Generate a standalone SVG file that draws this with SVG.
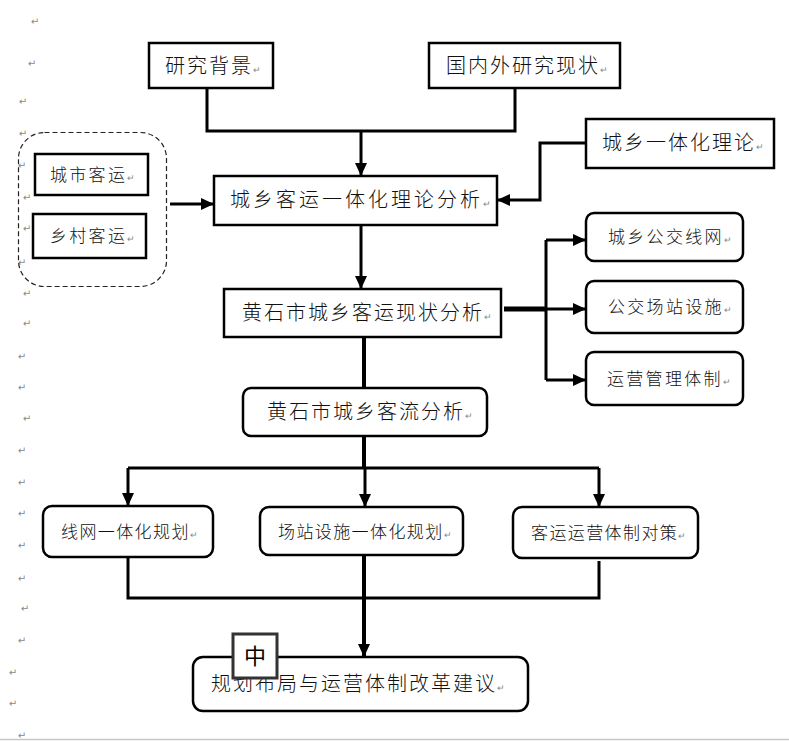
<svg xmlns="http://www.w3.org/2000/svg" width="789" height="741" viewBox="0 0 789 741">
<defs>
<style>
.box{fill:#fff;stroke:#000;stroke-width:2.5}
.t{font-family:"Noto Sans CJK SC","Noto Sans",sans-serif;font-weight:300;fill:#111}
.L{font-size:20px;letter-spacing:2px}
.M{font-size:17px;letter-spacing:2.3px}
.S{font-size:17px;letter-spacing:1.4px}
.pm{font-family:"DejaVu Sans",sans-serif;font-size:9px;fill:#888;letter-spacing:0}
.c{fill:none;stroke:#000;stroke-width:3}
.c4{fill:none;stroke:#000;stroke-width:4}
.m{fill:#888;font-family:"DejaVu Sans",sans-serif;font-size:10px;text-anchor:middle}
</style>
<marker id="ah" markerUnits="userSpaceOnUse" markerWidth="13" markerHeight="12" refX="13" refY="6" orient="auto">
<path d="M0,0 L13,6 L0,12 z" fill="#000"/>
</marker>
</defs>
<rect width="789" height="741" fill="#fff"/>
<line x1="0" y1="739.5" x2="789" y2="739.5" stroke="#c8c8c8" stroke-width="1.5"/>
<g id="margin-marks">
<text class="m" x="35" y="25">↵</text>
<text class="m" x="32" y="67">↵</text>
<text class="m" x="23" y="105">↵</text>
<text class="m" x="23" y="137">↵</text>
<text class="m" x="22" y="169">↵</text>
<text class="m" x="27" y="201">↵</text>
<text class="m" x="27" y="232">↵</text>
<text class="m" x="22" y="266">↵</text>
<text class="m" x="27" y="297">↵</text>
<text class="m" x="27" y="327">↵</text>
<text class="m" x="22" y="360">↵</text>
<text class="m" x="22" y="391">↵</text>
<text class="m" x="27" y="422">↵</text>
<text class="m" x="22" y="454">↵</text>
<text class="m" x="22" y="486">↵</text>
<text class="m" x="22" y="517">↵</text>
<text class="m" x="22" y="549">↵</text>
<text class="m" x="22" y="582">↵</text>
<text class="m" x="25" y="612">↵</text>
<text class="m" x="22" y="644">↵</text>
<text class="m" x="13" y="676">↵</text>
<text class="m" x="13" y="707">↵</text>
<text class="m" x="22" y="739">↵</text>
</g>
<g id="connectors">
<path class="c" d="M207,88 V131 H515 V88"/>
<path class="c" d="M361,131 V176" marker-end="url(#ah)"/>
<path class="c" d="M170,204 H214" marker-end="url(#ah)"/>
<path class="c" d="M586,143 H540 V200 H497" marker-end="url(#ah)"/>
<path class="c" d="M361,225 V289" marker-end="url(#ah)"/>
<path fill="none" stroke="#000" stroke-width="5" d="M504,309 H546"/>
<path class="c" d="M546,240 V380"/>
<path class="c" d="M546,240 H586" marker-end="url(#ah)"/>
<path class="c" d="M546,309 H586" marker-end="url(#ah)"/>
<path class="c" d="M546,380 H586" marker-end="url(#ah)"/>
<path class="c4" d="M364,337 V388"/>
<path class="c4" d="M364,436 V468"/>
<path class="c" d="M128,468 H599"/>
<path class="c" d="M128,468 V506" marker-end="url(#ah)"/>
<path class="c" d="M365,468 V507" marker-end="url(#ah)"/>
<path class="c" d="M599,468 V507" marker-end="url(#ah)"/>
<path class="c" d="M128,557 V598 H599 V561"/>
<path class="c4" d="M364,555 V657" marker-end="url(#ah)"/>
</g>
<g id="group-passenger">
<rect x="18.5" y="132.5" width="148" height="154" rx="26" fill="none" stroke="#222" stroke-width="1.2" stroke-dasharray="5,3"/>
</g>
<g id="n-bg">
<rect class="box" x="149" y="43" width="124" height="45"/>
<text class="t L" x="165" y="73">研究背景<tspan class="pm">↵</tspan></text>
</g>
<g id="n-domestic">
<rect class="box" x="429" y="43" width="191" height="45"/>
<text class="t L" x="446" y="73">国内外研究现状<tspan class="pm">↵</tspan></text>
</g>
<g id="n-theory">
<rect class="box" x="586" y="119" width="188" height="49"/>
<text class="t L" x="602" y="150">城乡一体化理论<tspan class="pm">↵</tspan></text>
</g>
<g id="n-city">
<rect class="box" x="35" y="154" width="113" height="41"/>
<text class="t M" x="50" y="181">城市客运<tspan class="pm">↵</tspan></text>
</g>
<g id="n-rural">
<rect class="box" x="33" y="214" width="113" height="44"/>
<text class="t M" x="50" y="242">乡村客运<tspan class="pm">↵</tspan></text>
</g>
<g id="n-analysis">
<rect class="box" x="214" y="176" width="283" height="49"/>
<text class="t L" x="230" y="207" style="letter-spacing:3px">城乡客运一体化理论分析<tspan class="pm">↵</tspan></text>
</g>
<g id="n-status">
<rect class="box" x="224" y="289" width="277" height="48"/>
<text class="t L" x="242" y="320">黄石市城乡客运现状分析<tspan class="pm">↵</tspan></text>
</g>
<g id="n-network">
<rect class="box" x="586" y="213" width="157" height="48" rx="8"/>
<text class="t M" x="608" y="243">城乡公交线网<tspan class="pm">↵</tspan></text>
</g>
<g id="n-station">
<rect class="box" x="586" y="281" width="157" height="52" rx="8"/>
<text class="t M" x="608" y="313">公交场站设施<tspan class="pm">↵</tspan></text>
</g>
<g id="n-mgmt">
<rect class="box" x="586" y="352" width="157" height="53" rx="8"/>
<text class="t M" x="607" y="385">运营管理体制<tspan class="pm">↵</tspan></text>
</g>
<g id="n-flow">
<rect class="box" x="243" y="388" width="244" height="48" rx="8"/>
<text class="t L" x="267" y="419">黄石市城乡客流分析<tspan class="pm">↵</tspan></text>
</g>
<g id="n-plan-network">
<rect class="box" x="43" y="506" width="170" height="51" rx="9"/>
<text class="t S" x="61" y="538">线网一体化规划<tspan class="pm">↵</tspan></text>
</g>
<g id="n-plan-station">
<rect class="box" x="260" y="507" width="203" height="48" rx="9"/>
<text class="t S" x="278" y="538">场站设施一体化规划<tspan class="pm">↵</tspan></text>
</g>
<g id="n-plan-ops">
<rect class="box" x="513" y="507" width="185" height="51" rx="9"/>
<text class="t S" x="531" y="539">客运运营体制对策<tspan class="pm">↵</tspan></text>
</g>
<g id="n-final">
<rect class="box" x="193" y="657" width="335" height="54" rx="10"/>
<text class="t L" x="211" y="691">规划布局与运营体制改革建议<tspan class="pm">↵</tspan></text>
</g>
<g id="ime-badge">
<rect x="233" y="634" width="44" height="44" fill="#fff" stroke="#333" stroke-width="3"/>
<text x="255" y="664" text-anchor="middle" font-family="Noto Sans CJK SC, sans-serif" font-size="22" fill="#000">中</text>
</g>
</svg>
